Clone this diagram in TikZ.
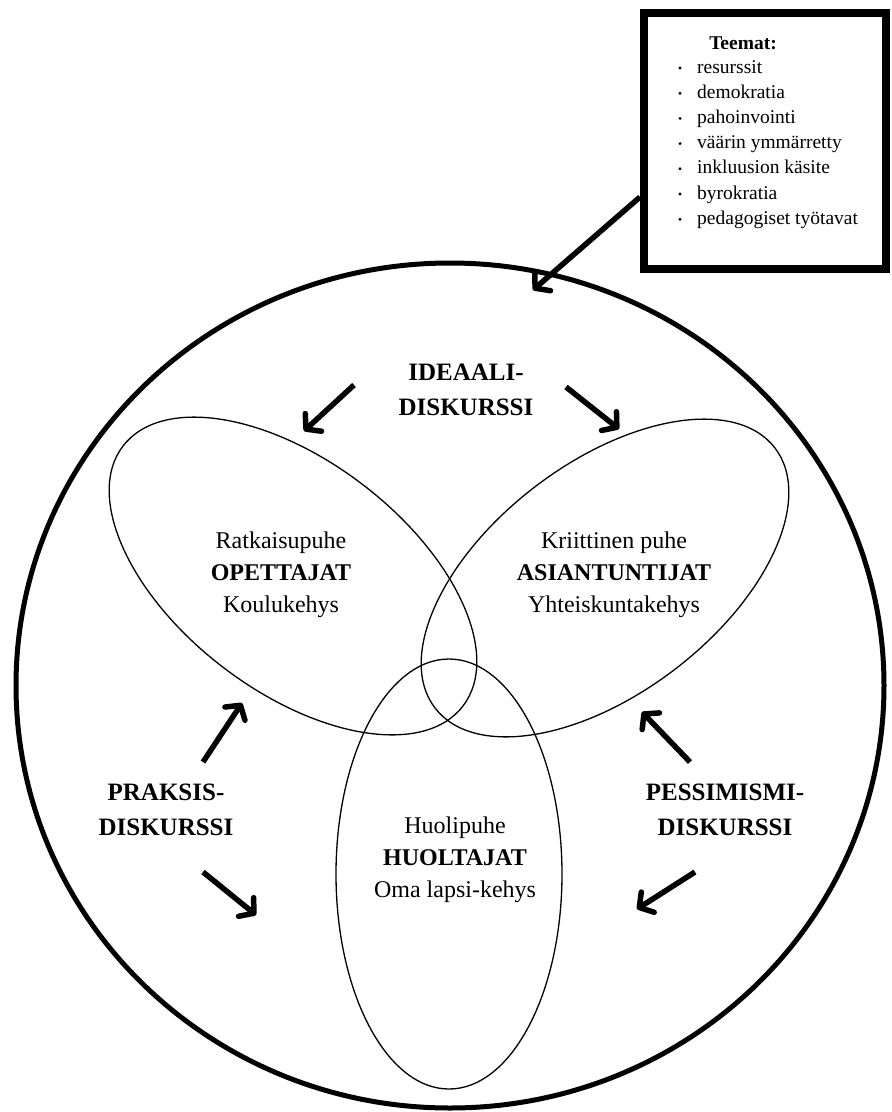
\documentclass[tikz,border=0pt]{standalone}
\usepackage{fontspec}
\setmainfont{Liberation Serif}
\usetikzlibrary{arrows.meta}

\tikzset{
  nuoli/.style={line width=5.5pt, -{Straight Barb[length=10pt,width=24pt,round]}},
  ohut/.style={line width=1.3pt},
  ryhma/.style={align=center, font=\fontsize{24}{32}\selectfont},
  diskurssi/.style={align=center, font=\bfseries\fontsize{25}{35}\selectfont},
  teema/.style={anchor=base west, inner sep=0pt, font=\fontsize{19.5}{25}\selectfont}
}

\begin{document}
\begin{tikzpicture}[x=1pt, y=-1pt]
    \useasboundingbox (0,0) rectangle (892,1112);

    %Iso ympyra
    \draw[line width=5pt] (450,685.5) ellipse [x radius=434pt, y radius=422.5pt];

    %Ryhmat: opettajat, asiantuntijat, huoltajat
    \draw[ohut] (293,576) ellipse [x radius=214pt, y radius=115pt, rotate=-37.4];
    \draw[ohut] (605,578) ellipse [x radius=214pt, y radius=115pt, rotate=37.4];
    \draw[ohut] (449,874) ellipse [x radius=113pt, y radius=215pt];

    \node[ryhma] (opettajat) at (281,575) {Ratkaisupuhe\\\textbf{OPETTAJAT}\\Koulukehys};
    \node[ryhma] (asiantuntijat) at (614,575) {Kriittinen puhe\\\textbf{ASIANTUNTIJAT}\\Yhteiskuntakehys};
    \node[ryhma] (huoltajat) at (455,860) {Huolipuhe\\\textbf{HUOLTAJAT}\\Oma lapsi-kehys};

    %Diskurssit
    \node[diskurssi] (ideaali) at (466,390) {IDEAALI-\\DISKURSSI};
    \node[diskurssi] (praksis) at (166,810) {PRAKSIS-\\DISKURSSI};
    \node[diskurssi] (pessimismi) at (725,810) {PESSIMISMI-\\DISKURSSI};

    %Nuolten paat
    \coordinate (i1a) at (354,385);  \coordinate (i1b) at (304,431);
    \coordinate (i2a) at (566,387);  \coordinate (i2b) at (619,429);
    \coordinate (p1a) at (203,762);  \coordinate (p1b) at (242,703);
    \coordinate (p2a) at (203,872);  \coordinate (p2b) at (256,915);
    \coordinate (s1a) at (690,762);  \coordinate (s1b) at (642,712);
    \coordinate (s2a) at (695,872);  \coordinate (s2b) at (637,909);

    \draw[nuoli] (i1a) -- (i1b);
    \draw[nuoli] (i2a) -- (i2b);
    \draw[nuoli] (p1a) -- (p1b);
    \draw[nuoli] (p2a) -- (p2b);
    \draw[nuoli] (s1a) -- (s1b);
    \draw[nuoli] (s2a) -- (s2b);

    %Teemat-laatikko
    \node[draw, line width=8pt, minimum width=242pt, minimum height=256pt, inner sep=0pt] (teemat) at (765,141) {};
    \node[anchor=base, font=\bfseries\fontsize{19.5}{25}\selectfont] (otsikko) at (743,49.5) {Teemat:};
    \foreach \teksti [count=\i] in {resurssit, demokratia, pahoinvointi, väärin ymmärretty, inkluusion käsite, byrokratia, pedagogiset työtavat} {
        \fill (680, 42.8+25.2*\i) circle (1.6pt);
        \node[teema] (t\i) at (697, 47.8+25.2*\i) {\teksti};
    }

    \coordinate (kohde) at (533,290);
    \draw[nuoli] ([yshift=-56pt]teemat.west) -- (kohde);
\end{tikzpicture}
\end{document}
